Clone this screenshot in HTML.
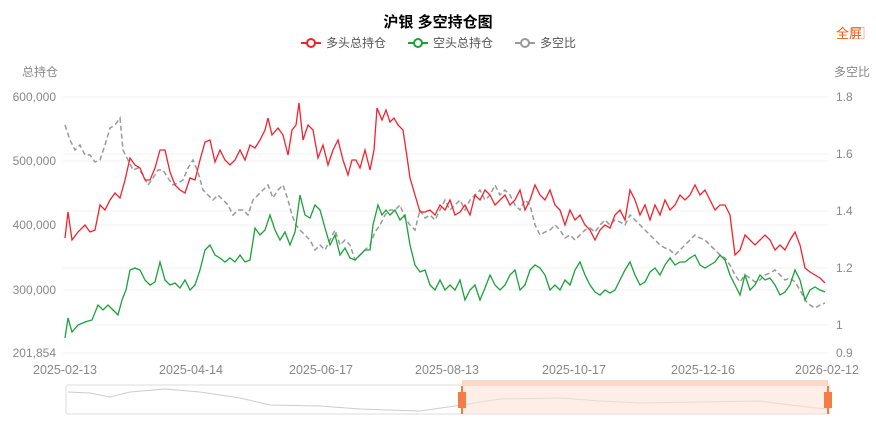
<!DOCTYPE html>
<html><head><meta charset="utf-8"><style>
body{margin:0;background:#fff;width:876px;height:417px;overflow:hidden;font-family:"Liberation Sans","Noto Sans CJK SC",sans-serif}
</style></head><body>
<svg width="876" height="417" xmlns="http://www.w3.org/2000/svg" font-family="Liberation Sans, Noto Sans CJK SC, sans-serif">
<text x="438" y="27" text-anchor="middle" font-size="15" font-weight="bold" fill="#000">沪银 多空持仓图</text>
<g font-size="12" fill="#555">
<line x1="301" y1="43" x2="321" y2="43" stroke="#f5222d" stroke-width="2"/><circle cx="311" cy="43" r="4" fill="#fff" stroke="#f5222d" stroke-width="2"/><text x="326" y="47">多头总持仓</text>
<line x1="408" y1="43" x2="428" y2="43" stroke="#1aa23a" stroke-width="2"/><circle cx="418" cy="43" r="4" fill="#fff" stroke="#1aa23a" stroke-width="2"/><text x="433" y="47">空头总持仓</text>
<line x1="515" y1="43" x2="535" y2="43" stroke="#999" stroke-width="2"/><circle cx="525" cy="43" r="4" fill="#fff" stroke="#999" stroke-width="2"/><text x="540" y="47">多空比</text>
</g>
<text x="836" y="38" font-size="13" fill="#f25a0e">全屏 ⃞</text>
<g font-size="12" fill="#888">
<text x="22" y="76">总持仓</text><text x="834" y="76">多空比</text>
<g text-anchor="end"><text x="56" y="101">600,000</text><text x="56" y="165">500,000</text><text x="56" y="229">400,000</text><text x="56" y="294">300,000</text><text x="56" y="357">201,854</text></g>
<g><text x="836" y="101">1.8</text><text x="836" y="158">1.6</text><text x="836" y="215">1.4</text><text x="836" y="272">1.2</text><text x="836" y="329">1</text><text x="836" y="357">0.9</text></g>
<g text-anchor="middle" font-size="12.5"><text x="65" y="374">2025-02-13</text><text x="191" y="374">2025-04-14</text><text x="321" y="374">2025-06-17</text><text x="447" y="374">2025-08-13</text><text x="574" y="374">2025-10-17</text><text x="703" y="374">2025-12-16</text><text x="827" y="374">2026-02-12</text></g>
</g>
<g stroke="#f0f0f0" stroke-width="1"><line x1="63" y1="97" x2="828" y2="97"/><line x1="63" y1="353" x2="828" y2="353"/>
<line x1="63" y1="161" x2="828" y2="161"/><line x1="63" y1="225" x2="828" y2="225"/><line x1="63" y1="290" x2="828" y2="290"/>
<line x1="63" y1="154" x2="828" y2="154"/><line x1="63" y1="211" x2="828" y2="211"/><line x1="63" y1="268" x2="828" y2="268"/><line x1="63" y1="325" x2="828" y2="325"/></g>
<polyline fill="none" stroke="#999" stroke-width="1.5" stroke-dasharray="5,3" points="65,125 70,140 75,150 80,145 85,155 90,155 95,162 100,160 105,145 110,128 115,125 120,118 123,150 128,160 133,170 138,168 143,175 148,185 153,178 158,170 163,170 168,178 173,185 178,183 183,180 188,168 193,160 198,172 203,190 208,195 213,200 218,195 223,200 228,205 233,215 238,210 243,210 248,215 253,200 258,195 263,190 268,185 273,198 278,190 283,185 288,200 292,215 296,225 300,230 305,235 310,240 315,250 320,245 325,250 330,240 335,230 340,245 345,240 350,245 355,260 360,255 365,250 370,245 375,232 380,225 385,215 390,210 395,210 400,205 405,218 410,225 415,230 420,210 425,218 430,215 435,220 440,210 445,200 450,210 455,205 460,200 465,210 470,200 475,195 480,190 485,200 490,195 495,185 500,195 505,190 510,195 515,205 520,210 525,200 530,205 535,225 540,235 545,232 550,230 555,225 560,230 565,238 570,235 575,240 580,235 585,230 590,228 595,232 600,225 605,220 610,225 615,220 620,222 625,225 630,215 635,220 640,225 645,230 650,235 655,240 660,245 665,248 670,250 675,255 680,250 685,245 690,240 695,235 700,238 705,240 710,245 715,250 720,255 725,258 730,265 735,275 740,282 745,275 750,278 755,282 760,280 765,275 770,273 775,270 780,275 785,280 790,278 795,282 800,290 805,300 810,305 815,308 820,305 825,303"/>
<polyline fill="none" stroke="#1aa23a" stroke-width="1.3" points="65,338 68,318 72,332 78,325 85,322 92,320 98,305 103,310 108,305 113,310 118,315 122,300 126,290 130,270 135,268 140,270 145,280 150,285 155,282 160,262 165,280 170,285 175,283 180,288 185,280 190,290 195,285 200,270 205,250 210,245 215,255 220,258 225,262 230,258 235,262 240,255 245,262 250,260 255,228 260,235 265,230 270,215 275,230 280,240 285,232 290,245 295,232 300,195 305,215 310,218 315,205 320,210 325,228 330,245 335,235 340,255 345,248 350,258 355,260 360,255 365,250 370,250 373,225 378,205 382,215 386,210 390,215 395,210 400,220 405,215 410,245 415,265 420,272 425,270 430,285 435,290 440,280 445,290 450,285 455,290 460,280 465,300 470,290 475,285 480,300 485,288 490,275 495,285 500,290 505,285 510,275 515,270 520,290 525,285 530,270 535,265 540,268 545,275 550,290 555,285 560,290 565,280 570,285 575,270 580,262 585,275 590,285 595,292 600,295 605,290 610,293 615,290 620,280 625,270 630,262 635,275 640,285 645,282 650,272 655,268 660,275 665,265 670,258 675,265 680,262 685,262 690,258 695,255 700,265 705,268 710,265 715,262 720,255 725,260 730,275 735,285 740,295 745,275 750,290 755,285 760,275 765,280 770,278 775,285 780,295 785,292 790,285 795,270 800,280 805,300 810,290 815,287 820,290 825,292"/>
<polyline fill="none" stroke="#f5222d" stroke-width="1.3" points="65,238 68,212 72,240 78,232 85,225 90,232 95,230 100,205 105,210 110,200 115,193 120,198 125,180 130,158 135,165 140,168 145,180 150,180 155,168 160,150 165,150 170,172 175,185 180,190 185,193 190,178 195,180 200,160 205,142 210,140 215,162 220,150 225,160 230,165 235,160 240,150 245,160 250,145 255,148 260,140 265,130 268,118 272,135 278,128 283,135 288,155 292,130 296,125 299,103 303,140 308,125 313,130 318,158 323,145 328,165 333,150 338,140 343,160 348,175 352,160 356,160 360,168 365,150 370,170 374,150 377,108 382,120 386,110 390,122 394,118 398,125 403,130 406,150 410,178 415,195 420,212 425,212 430,210 435,215 440,205 445,210 450,200 455,215 460,212 465,205 470,215 475,195 480,200 485,190 490,195 495,205 500,200 505,195 510,205 515,200 520,190 525,210 530,200 535,185 540,195 545,200 550,190 555,205 560,210 565,225 570,210 575,220 580,215 585,225 590,230 595,240 600,230 605,225 610,228 615,215 620,210 625,220 630,190 635,200 640,215 645,205 650,220 655,205 660,215 665,200 670,210 675,205 680,195 685,200 690,195 695,185 700,195 705,190 710,200 715,210 720,205 725,205 730,215 735,255 740,250 745,235 750,240 755,245 760,240 765,235 770,240 775,250 780,245 785,250 790,240 795,232 800,245 805,268 810,272 815,275 820,278 825,283"/>
<rect x="66" y="385" width="764" height="29" fill="#fff" stroke="#ddd" rx="2"/>
<polyline fill="none" stroke="#ccc" stroke-width="1" points="68,392 90,393 110,397 130,392 165,389 200,392 240,398 270,405 320,406 360,409 420,411 462,405 500,399 560,398 600,401 640,403 700,402 760,401 790,405 826,409"/>
<rect x="462" y="385" width="366" height="29" fill="#fbe3d8" opacity="0.6"/>
<rect x="462" y="380" width="366" height="6" fill="#fbd9c8"/>
<line x1="462" y1="386" x2="462" y2="414" stroke="#f47c48" stroke-width="2"/>
<line x1="828" y1="386" x2="828" y2="414" stroke="#f47c48" stroke-width="2"/>
<rect x="458" y="392" width="8" height="16" fill="#f47c48"/>
<rect x="824" y="392" width="8" height="16" fill="#f47c48"/>
</svg>
</body></html>
